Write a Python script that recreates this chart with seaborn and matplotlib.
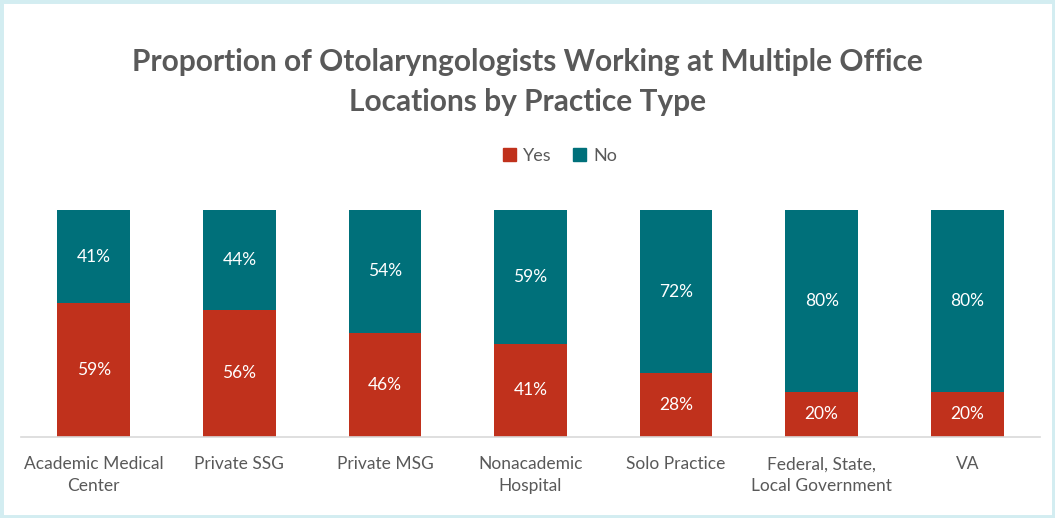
import matplotlib
matplotlib.use("Agg")
import matplotlib.pyplot as plt
import seaborn as sns
import pandas as pd
from matplotlib.patches import Patch, Rectangle

categories = ["Academic Medical\nCenter", "Private SSG", "Private MSG", "Nonacademic\nHospital",
              "Solo Practice", "Federal, State,\nLocal Government", "VA"]
yes_vals = [59, 56, 46, 41, 28, 20, 20]
no_vals = [41, 44, 54, 59, 72, 80, 80]

RED = "#c0311c"
TEAL = "#00707a"
GREY = "#595959"

sns.set_theme(style="white")
plt.rcParams["font.family"] = ["Lato", "DejaVu Sans"]

fig = plt.figure(figsize=(10.55, 5.18), dpi=100)
ax = fig.add_axes([21 / 1055, 1 - 437 / 518, (1040 - 21) / 1055, (437 - 210) / 518])

df = pd.DataFrame({"cat": categories, "Yes": yes_vals, "No": no_vals})
df["Total"] = df["Yes"] + df["No"]

sns.barplot(data=df, x="cat", y="Total", color=TEAL, width=0.5, ax=ax, saturation=1, linewidth=0)
sns.barplot(data=df, x="cat", y="Yes", color=RED, width=0.5, ax=ax, saturation=1, linewidth=0)

for i, (y, n) in enumerate(zip(yes_vals, no_vals)):
    ax.text(i, y / 2, f"{y}%", ha="center", va="center", color="white", fontsize=12.5)
    ax.text(i, y + n / 2, f"{n}%", ha="center", va="center", color="white", fontsize=12.5)

ax.set_xlim(-0.5, 6.5)
ax.set_ylim(0, 100)
ax.set_xlabel("")
ax.set_ylabel("")
ax.set_yticks([])
for s in ["top", "right", "left"]:
    ax.spines[s].set_visible(False)
ax.spines["bottom"].set_color("#d9d9d9")
ax.spines["bottom"].set_linewidth(1.2)
ax.tick_params(axis="x", length=0, pad=14, labelsize=12.5, labelcolor=GREY)
for lbl in ax.get_xticklabels():
    lbl.set_linespacing(1.45)

fig.text(0.5, 1 - 82 / 518, "Proportion of Otolaryngologists Working at Multiple Office\nLocations by Practice Type",
         ha="center", va="center", fontsize=21.5, fontweight="bold", color=GREY, linespacing=1.5)

handles = [Patch(color=RED, label="Yes"), Patch(color=TEAL, label="No")]
fig.legend(handles=handles, loc="center", bbox_to_anchor=(560 / 1055, 1 - 156 / 518), ncol=2, frameon=False,
           fontsize=13, labelcolor=GREY, handlelength=0.7, handleheight=0.7, handletextpad=0.4, columnspacing=1.2)

fig.patches.append(Rectangle((0, 0), 1, 1, transform=fig.transFigure, fill=False,
                             edgecolor="#d3edf1", linewidth=5, zorder=10))

fig.savefig("out.png", dpi=100, facecolor="white")
